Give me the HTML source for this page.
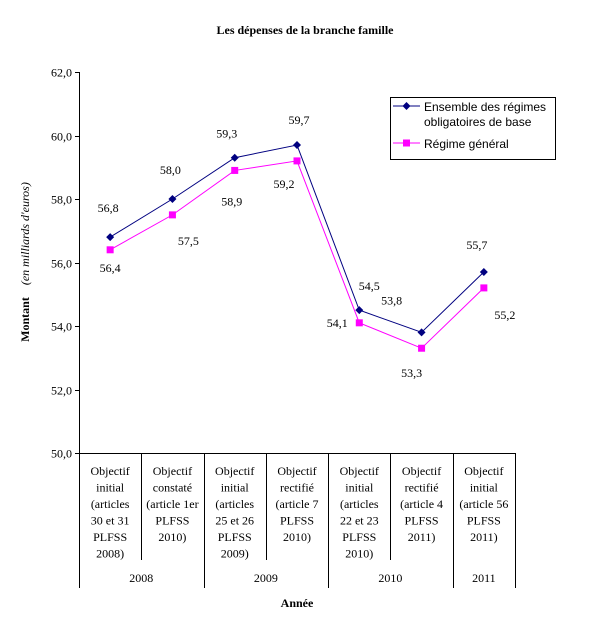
<!DOCTYPE html>
<html><head><meta charset="utf-8"><style>
html,body{margin:0;padding:0;background:#fff;}
svg{display:block;font-family:"Liberation Serif",serif;}
</style></head><body>
<svg width="614" height="625" viewBox="0 0 614 625" id="c">
<text x="305" y="34" text-anchor="middle" font-size="12" font-weight="bold">Les dépenses de la branche famille</text>
<text transform="translate(29,262) rotate(-90)" text-anchor="middle" font-size="12"><tspan font-weight="bold">Montant</tspan><tspan font-style="italic" dx="12">(en milliards d'euros)</tspan></text>
<text x="297" y="607" text-anchor="middle" font-size="12" font-weight="bold">Année</text>
<g id="axes"></g><g id="cats"></g><g id="series"></g>
<g>
<rect x="390.5" y="97.5" width="165" height="62" fill="#fff" stroke="#000"/>
<g>
<line x1="393" y1="106" x2="420" y2="106" stroke="#000080"/>
<path d="M406.5 102 L410.5 106 L406.5 110 L402.5 106Z" fill="#000080"/>
<text x="424" y="111" font-size="12" font-family="Liberation Sans,sans-serif">Ensemble des régimes</text>
<text x="424" y="126" font-size="12" font-family="Liberation Sans,sans-serif">obligatoires de base</text>
</g>
<g>
<line x1="393" y1="143" x2="420" y2="143" stroke="#ff00ff"/>
<rect x="403" y="139.5" width="7" height="7" fill="#ff00ff"/>
<text x="424" y="148" font-size="12" font-family="Liberation Sans,sans-serif">Régime général</text>
</g>
</g>
</svg>
<script>
const categories=[["Objectif","initial","(articles","30 et 31","PLFSS","2008)"],["Objectif","constaté","(article 1er","PLFSS","2010)"],["Objectif","initial","(articles","25 et 26","PLFSS","2009)"],["Objectif","rectifié","(article 7","PLFSS","2010)"],["Objectif","initial","(articles","22 et 23","PLFSS","2010)"],["Objectif","rectifié","(article 4","PLFSS","2011)"],["Objectif","initial","(article 56","PLFSS","2011)"]];
const years=["2008","2009","2010","2011"];
const yearSpans=[2,2,2,1];
const ensemble=[56.8,58.0,59.3,59.7,54.5,53.8,55.7];
const general=[56.4,57.5,58.9,59.2,54.1,53.3,55.2];
const yTicks=[50,52,54,56,58,60,62];
const ensOff=[[-2,-29],[-2,-29],[-8,-24],[2,-25],[10,-24],[-30,-32],[-7,-27]];
const genOff=[[0,18],[16,26],[-3,31],[-13,23],[-22,0],[-10,25],[21,27]];
const NS="http://www.w3.org/2000/svg";
const X0=79,X1=515,Y0=453,Y1=72,VMIN=50,VMAX=62;
const cw=(X1-X0)/categories.length;
function xs(i){return X0+cw*(i+0.5);}
function ys(v){return Y0-(v-VMIN)/(VMAX-VMIN)*(Y0-Y1);}
function mk(t,a,p){const e=document.createElementNS(NS,t);for(const k in a)e.setAttribute(k,a[k]);p.appendChild(e);return e;}
const ax=document.getElementById('axes');
const yl=mk('line',{x1:X0+.5,y1:Y1,x2:X0+.5,y2:Y0,stroke:'#000'},ax);


yTicks.forEach(v=>{const y=Math.round(ys(v))+.5;
 mk('line',{x1:X0-4,y1:y,x2:X0,y2:y,stroke:'#000'},ax);
 const t=mk('text',{x:X0-7,y:y+4,'text-anchor':'end','font-size':12},ax);t.textContent=v.toFixed(1).replace('.',',');
 
 });
const xl=mk('line',{x1:X0,y1:Y0+.5,x2:X1,y2:Y0+.5,stroke:'#000'},ax);


const cg=document.getElementById('cats');
mk('line',{x1:X0+.5,y1:Y0,x2:X0+.5,y2:588,stroke:'#000'},cg);
categories.forEach((c,i)=>{
 const g=mk('text',{x:xs(i),'text-anchor':'middle','font-size':12},cg);
 
 
 c.forEach((l,j)=>{const s=mk('tspan',{x:xs(i),y:475+j*16.5},g);s.textContent=l;});
});
let idx=0;
years.forEach((yv,k)=>{
 const s=idx,e=idx+yearSpans[k];
 for(let i=s+1;i<e;i++){const x=Math.round(X0+cw*i)+.5;mk('line',{x1:x,y1:Y0,x2:x,y2:560,stroke:'#000'},cg);}
 const xe=Math.round(X0+cw*e)+.5;mk('line',{x1:xe,y1:Y0,x2:xe,y2:588,stroke:'#000'},cg);
 const t=mk('text',{x:(X0+cw*s+X0+cw*e)/2,y:582,'text-anchor':'middle','font-size':12},cg);t.textContent=yv;
 
 
 idx=e;});
const sg=document.getElementById('series');
function draw(data,col,off,square,name){
 const p=mk('polyline',{points:data.map((v,i)=>xs(i)+','+ys(v)).join(' '),fill:'none',stroke:col},sg);
 
 
 data.forEach((v,i)=>{const x=xs(i),y=ys(v);let m;
  if(square)m=mk('rect',{x:x-3.5,y:y-3.5,width:7,height:7,fill:col},sg);
  else m=mk('path',{d:`M${x} ${y-4}L${x+4} ${y}L${x} ${y+4}L${x-4} ${y}Z`,fill:col},sg);
  
  
  const t=mk('text',{x:x+off[i][0],y:y+off[i][1]+4,'text-anchor':'middle','font-size':12},sg);
  t.textContent=v.toFixed(1).replace('.',',');
  
  });
}
draw(ensemble,'#000080',ensOff,false,'ensemble');
draw(general,'#ff00ff',genOff,true,'regime-general');
</script>
</body></html>
